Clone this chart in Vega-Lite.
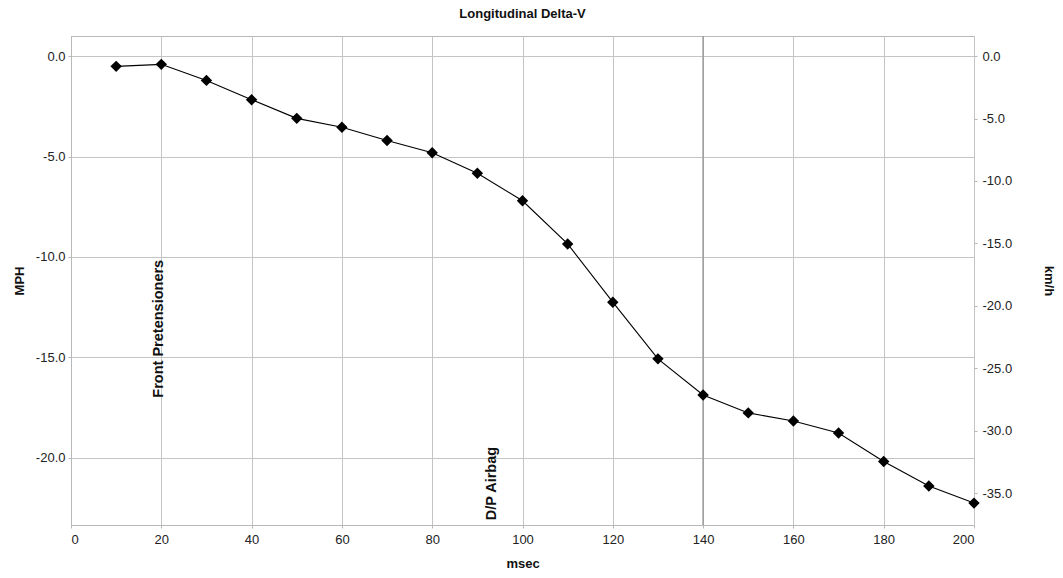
{
  "$schema": "https://vega.github.io/schema/vega-lite/v6.json",
  "width": 903,
  "height": 489,
  "autosize": "none",
  "padding": {"left": 71, "top": 36, "right": 89, "bottom": 53},
  "background": "white",
  "title": {
    "text": "Longitudinal Delta-V",
    "font": "Liberation Sans",
    "fontSize": 13,
    "fontWeight": "bold",
    "color": "#111111",
    "anchor": "middle",
    "frame": "group",
    "offset": 14
  },
  "config": {
    "font": "Liberation Sans",
    "view": {"stroke": "#b8b8b8", "strokeWidth": 1},
    "axis": {
      "labelFont": "Liberation Sans",
      "labelFontSize": 13,
      "labelColor": "#222222",
      "titleFont": "Liberation Sans",
      "titleFontSize": 13,
      "titleFontWeight": "bold",
      "titleColor": "#111111",
      "domainColor": "#b8b8b8",
      "tickColor": "#b8b8b8",
      "tickSize": 3,
      "gridColor": "#c4c4c4",
      "gridWidth": 1,
      "gridOpacity": 1
    }
  },
  "datasets": {
    "delta": [
      {"msec": 10, "mph": -0.51},
      {"msec": 20, "mph": -0.41},
      {"msec": 30, "mph": -1.21},
      {"msec": 40, "mph": -2.17},
      {"msec": 50, "mph": -3.10},
      {"msec": 60, "mph": -3.54},
      {"msec": 70, "mph": -4.20},
      {"msec": 80, "mph": -4.81},
      {"msec": 90, "mph": -5.83},
      {"msec": 100, "mph": -7.20},
      {"msec": 110, "mph": -9.35},
      {"msec": 120, "mph": -12.25},
      {"msec": 130, "mph": -15.07},
      {"msec": 140, "mph": -16.87},
      {"msec": 150, "mph": -17.76},
      {"msec": 160, "mph": -18.16},
      {"msec": 170, "mph": -18.76},
      {"msec": 180, "mph": -20.18},
      {"msec": 190, "mph": -21.40},
      {"msec": 200, "mph": -22.25}
    ],
    "events": [
      {"msec": 19.5, "mph": -17.0, "label": "Front Pretensioners"},
      {"msec": 93.2, "mph": -23.1, "label": "D/P Airbag"}
    ],
    "marker": [{"msec": 140}],
    "kmhAxis": [{"msec": 0, "kmh": 0}]
  },
  "layer": [
    {
      "layer": [
        {
          "data": {"name": "marker"},
          "mark": {"type": "rule", "color": "#9a9a9a", "strokeWidth": 1.5},
          "encoding": {
            "x": {"field": "msec", "type": "quantitative"}
          }
        },
        {
          "data": {"name": "delta"},
          "mark": {"type": "line", "color": "#000000", "strokeWidth": 1.1, "interpolate": "linear"},
          "encoding": {
            "x": {
              "field": "msec",
              "type": "quantitative",
              "scale": {"domain": [0, 200], "nice": false, "zero": false},
              "axis": {
                "title": "msec",
                "values": [0, 20, 40, 60, 80, 100, 120, 140, 160, 180, 200],
                "labelPadding": 5,
                "titlePadding": 11,
                "grid": true
              }
            },
            "y": {
              "field": "mph",
              "type": "quantitative",
              "scale": {"domain": [-23.34, 1.0], "nice": false, "zero": false},
              "axis": {
                "title": "MPH",
                "orient": "left",
                "labelExpr": "replace(format(datum.value, '.1f'), '\u2212', '-')",
                "values": [0, -5, -10, -15, -20],
                "labelPadding": 3,
                "titlePadding": 9,
                "grid": true
              }
            }
          }
        },
        {
          "data": {"name": "delta"},
          "mark": {"type": "point", "shape": "diamond", "filled": true, "color": "#000000", "size": 130, "opacity": 1},
          "encoding": {
            "x": {"field": "msec", "type": "quantitative"},
            "y": {"field": "mph", "type": "quantitative"}
          }
        },
        {
          "data": {"name": "events"},
          "mark": {
            "type": "text",
            "angle": 270,
            "align": "left",
            "baseline": "middle",
            "font": "Liberation Sans",
            "fontSize": 14.5,
            "fontWeight": "bold",
            "color": "#111111"
          },
          "encoding": {
            "x": {"field": "msec", "type": "quantitative"},
            "y": {"field": "mph", "type": "quantitative"},
            "text": {"field": "label"}
          }
        }
      ]
    },
    {
      "data": {"name": "kmhAxis"},
      "mark": {"type": "rule", "opacity": 0},
      "encoding": {
        "y": {
          "field": "kmh",
          "type": "quantitative",
          "scale": {"domain": [-37.563, 1.609], "nice": false, "zero": false},
          "axis": {
            "title": "km/h",
            "orient": "right",
            "labelExpr": "replace(format(datum.value, '.1f'), '\u2212', '-')",
            "values": [0, -5, -10, -15, -20, -25, -30, -35],
            "grid": false,
            "domain": false,
            "labelPadding": 5,
            "titlePadding": 30
          }
        }
      }
    }
  ],
  "resolve": {"scale": {"y": "independent"}, "axis": {"y": "independent"}}
}
